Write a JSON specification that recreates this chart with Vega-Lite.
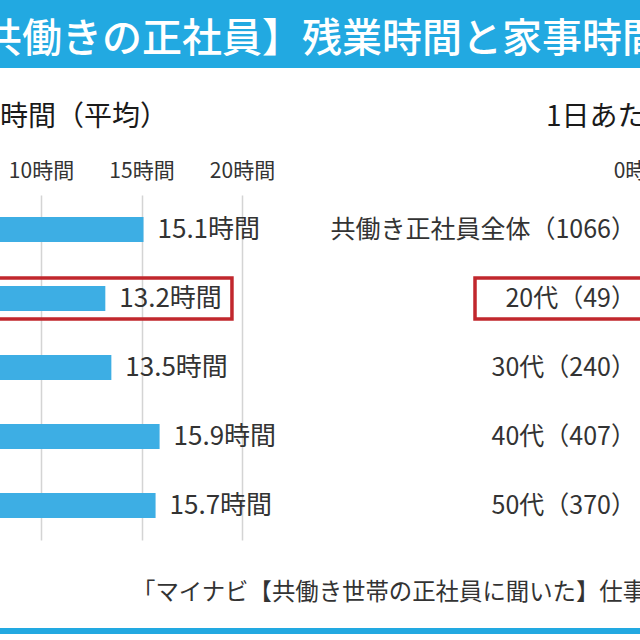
{
  "$schema": "https://vega.github.io/schema/vega-lite/v6.json",
  "background": "white",
  "padding": 0,
  "datasets": {
    "rows": [
      {"group": "共働き正社員全体（1066）", "hours": 15.1},
      {"group": "20代（49）", "hours": 13.2},
      {"group": "30代（240）", "hours": 13.5},
      {"group": "40代（407）", "hours": 15.9},
      {"group": "50代（370）", "hours": 15.7}
    ]
  },
  "spacing": 36,
  "vconcat": [
    {
      "width": 640,
      "height": 68,
      "view": {"fill": "#22A9E1", "stroke": null},
      "data": {"values": [{"t": "【共働きの正社員】残業時間と家事時間"}]},
      "mark": {"type": "text", "align": "center", "baseline": "middle", "dx": -18, "dy": 6, "fontSize": 40, "fontWeight": 500, "color": "white", "clip": true},
      "encoding": {"text": {"field": "t"}}
    },
    {
      "spacing": 0,
      "vconcat": [
        {
          "spacing": 0,
          "hconcat": [
            {
              "width": 320,
              "height": 345,
              "title": {"text": "時間（平均）", "anchor": "start", "fontSize": 28, "fontWeight": "normal", "color": "#1a1a1a", "offset": 28},
              "data": {"name": "rows"},
              "transform": [{"calculate": "format(datum.hours, '.1f') + '時間'", "as": "lbl"}],
              "encoding": {
                "y": {"field": "group", "type": "nominal", "sort": null, "axis": null, "scale": {"paddingInner": 0.638, "paddingOuter": 0.319}}
              },
              "layer": [
                {
                  "mark": {"type": "bar", "color": "#3DAEE4", "clip": true},
                  "encoding": {
                    "x": {"field": "hours", "type": "quantitative", "scale": {"domain": [7.96, 23.88], "nice": false, "zero": false},
                      "axis": {"orient": "top", "values": [10, 15, 20], "labelExpr": "datum.value + '時間'", "title": null, "domain": false, "ticks": false, "grid": true, "gridColor": "#d4d4d4", "gridWidth": 1.5, "labelFontSize": 21, "labelColor": "#333", "labelPadding": 14, "labelFlush": false, "labelOverlap": false}}
                  }
                },
                {
                  "mark": {"type": "text", "align": "left", "baseline": "middle", "dx": 14, "fontSize": 26, "color": "#333"},
                  "encoding": {
                    "x": {"field": "hours", "type": "quantitative"},
                    "text": {"field": "lbl"}
                  }
                },
                {
                  "transform": [{"filter": "datum.group == '20代（49）'"}],
                  "mark": {"type": "rect", "filled": false, "color": "#C1272D", "strokeWidth": 3.5, "clip": true, "height": {"band": 1.64}},
                  "encoding": {
                    "x": {"datum": 0},
                    "x2": {"datum": 19.5}
                  }
                }
              ]
            },
            {
              "width": 320,
              "height": 345,
              "title": {"text": "1日あた", "anchor": "start", "fontSize": 28, "fontWeight": "normal", "color": "#1a1a1a", "offset": 28, "dx": 226},
              "data": {"name": "rows"},
              "encoding": {
                "y": {"field": "group", "type": "nominal", "sort": null, "axis": null, "scale": {"paddingInner": 0.638, "paddingOuter": 0.319}}
              },
              "layer": [
                {
                  "mark": {"type": "text", "align": "right", "baseline": "middle", "dx": -4, "fontSize": 25, "color": "#333"},
                  "encoding": {
                    "x": {"datum": 0, "type": "quantitative", "scale": {"domain": [-16, 0], "nice": false},
                      "axis": {"orient": "top", "values": [0], "labelExpr": "datum.value + '時間'", "title": null, "domain": false, "ticks": false, "grid": false, "labelFontSize": 21, "labelColor": "#333", "labelPadding": 14, "labelFlush": false, "labelOverlap": false}},
                    "text": {"field": "group"}
                  }
                },
                {
                  "transform": [{"filter": "datum.group == '20代（49）'"}],
                  "mark": {"type": "rect", "filled": false, "color": "#C1272D", "strokeWidth": 3.5, "clip": true, "height": {"band": 1.64}, "xOffset": -165, "x2Offset": 10},
                  "encoding": {
                    "x": {"datum": 0, "type": "quantitative"},
                    "x2": {"datum": 0}
                  }
                }
              ]
            }
          ]
        },
        {
          "width": 640,
          "height": 88,
          "data": {"values": [{"t": "「マイナビ【共働き世帯の正社員に聞いた】仕事と家庭の両立に関する調査」より"}]},
          "mark": {"type": "text", "align": "left", "baseline": "middle", "dx": -188, "dy": 9, "fontSize": 23.4, "color": "#333", "clip": true},
          "encoding": {"text": {"field": "t"}}
        },
        {
          "width": 640,
          "height": 6,
          "view": {"fill": "#22A9E1", "stroke": null},
          "data": {"values": [{"t": "line"}]},
          "mark": {"type": "rect", "color": "#22A9E1"},
          "encoding": {}
        }
      ]
    }
  ],
  "config": {
    "view": {"stroke": null},
    "font": "Noto Sans CJK JP",
    "title": {"font": "Noto Sans CJK JP"},
    "axis": {"labelFont": "Noto Sans CJK JP"},
    "text": {"font": "Noto Sans CJK JP"}
  }
}
